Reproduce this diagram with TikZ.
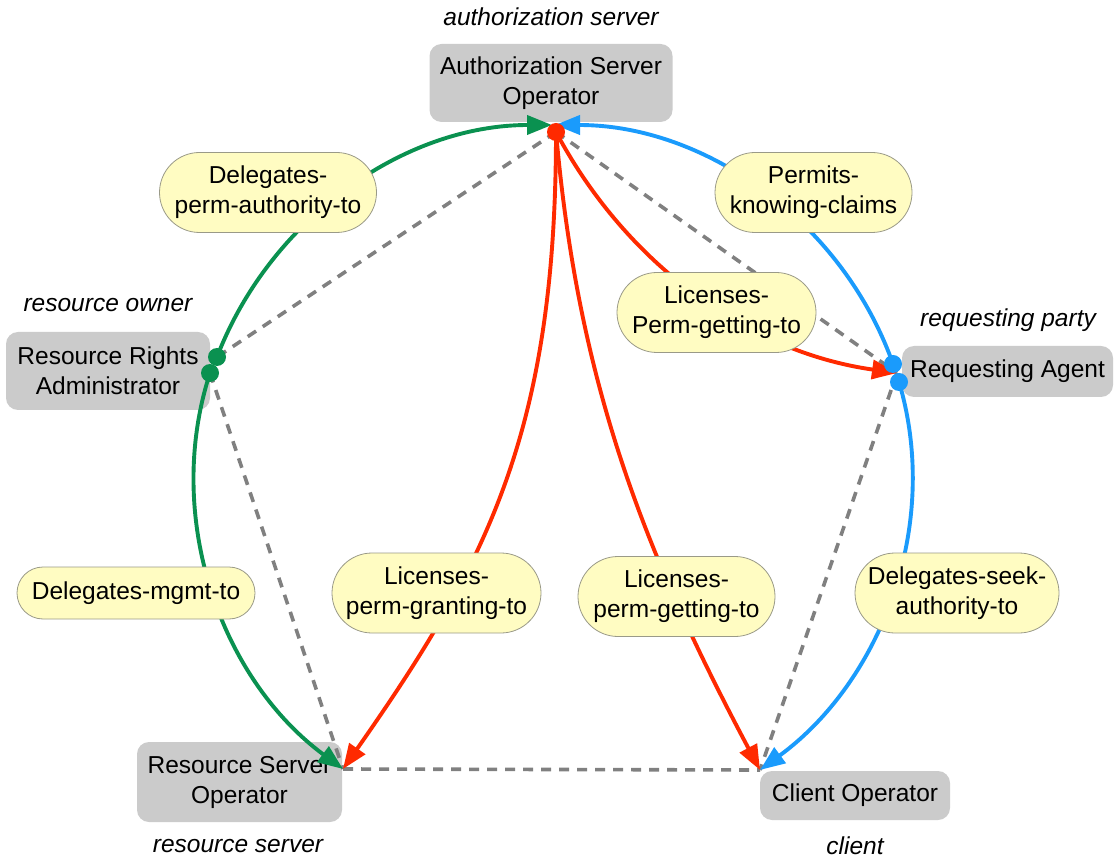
\documentclass[tikz,border=0pt]{standalone}
\usepackage{fontspec}
\setmainfont{Liberation Sans}
\usetikzlibrary{arrows.meta,shapes.misc}
\definecolor{boxgray}{HTML}{CBCBCB}
\definecolor{pillfill}{HTML}{FFFCC2}
\definecolor{pilledge}{HTML}{9A9A88}
\definecolor{delegreen}{HTML}{0A9150}
\definecolor{seekblue}{HTML}{1A9BFC}
\definecolor{licred}{HTML}{FF2A00}
\definecolor{dashgray}{HTML}{808080}

\begin{document}
\begin{tikzpicture}[x=1pt,y=1pt,
  font=\fontsize{24.5}{30}\selectfont,
  party/.style={fill=boxgray, rounded corners=12pt, align=center, inner sep=0pt},
  role/.style={font=\fontsize{24.5}{30}\selectfont\itshape},
  rel/.style={rounded rectangle, draw=pilledge, line width=0.8pt, fill=pillfill, align=center,
              inner sep=0pt, minimum height=80pt},
  relone/.style={rel, minimum height=52pt},
  link/.style={line width=3.9pt, -{Triangle[length=25pt,width=19pt]}},
  trust/.style={dashgray, line width=3.6pt, dash pattern=on 10pt off 8pt},
]
\useasboundingbox (0,0) rectangle (1115,860);

% parties
\node[party, minimum width=243pt, minimum height=78pt] (aso) at (551,777) {Authorization Server\\Operator};
\node[party, minimum width=204pt, minimum height=78pt] (rra) at (108,489) {Resource Rights\\Administrator};
\node[party, minimum width=211pt, minimum height=51pt] (ra) at (1007.5,488.5) {Requesting Agent};
\node[party, minimum width=205pt, minimum height=80pt] (rso) at (239.5,78) {Resource Server\\Operator};
\node[party, minimum width=190pt, minimum height=49pt] (co) at (855,64.5) {Client Operator};

% roles
\node[role] (asorole) at (551,843) {authorization server};
\node[role] (rrarole) at (108,555) {resource owner};
\node[role] (rarole) at (1008,540) {requesting party};
\node[role] (rsorole) at (238,14) {resource server};
\node[role] (corole) at (855,14) {client};

% attachment points
\coordinate (top) at (556,728);
\coordinate (gtip) at (552,735);
\coordinate (btip) at (555,735);
\coordinate (g1) at (217,503);
\coordinate (g2) at (210,487);
\coordinate (b1) at (893,496);
\coordinate (b2) at (899,478);
\coordinate (ratip) at (897,487);
\coordinate (rsotip) at (343,91);
\coordinate (cotip) at (760,90);

% trust triangle lines
\draw[trust] (top) -- (g1);
\draw[trust] (top) -- (ratip);
\draw[trust] (g2) -- (rsotip);
\draw[trust] (ratip) -- (cotip);
\draw[trust] (rsotip) -- (cotip);

% delegation arcs
\draw[link, delegreen] (g1) to[out=69, in=180, looseness=0.93] (gtip);
\draw[link, delegreen] (g2) to[out=-108, in=143.5, looseness=0.93] (rsotip);
\draw[link, seekblue] (b1) to[out=109.5, in=0, looseness=0.93] (btip);
\draw[link, seekblue] (b2) to[out=-73.5, in=36.3, looseness=0.93] (cotip);

% licensing curves
\draw[link, licred] (top) .. controls +(0,-300) and +(143.4,204.8) .. (rsotip);
\draw[link, licred] (top) .. controls +(21.8,-249) and +(-117.3,220.7) .. (cotip);
\draw[link, licred] (top) .. controls +(70.4,-132.4) and +(-148.5,20.9) .. (ratip);

% relation labels
\node[rel, minimum width=217pt] (dpa) at (268,667.5) {Delegates-\\perm-authority-to};
\node[rel, minimum width=197pt] (pkc) at (813.5,667.5) {Permits-\\knowing-claims};
\node[rel, minimum width=199pt] (lpgu) at (716.5,547.5) {Licenses-\\Perm-getting-to};
\node[relone, minimum width=238pt] (dm) at (136,267) {Delegates-mgmt-to};
\node[rel, minimum width=209pt] (lpgr) at (436.5,267) {Licenses-\\perm-granting-to};
\node[rel, minimum width=197pt] (lpge) at (676.5,263.5) {Licenses-\\perm-getting-to};
\node[rel, minimum width=204pt] (dsa) at (957,267) {Delegates-seek-\\authority-to};

% junction dots
\fill[delegreen] (g1) circle (9pt);
\fill[delegreen] (g2) circle (9pt);
\fill[seekblue] (b1) circle (9pt);
\fill[seekblue] (b2) circle (9pt);
\fill[licred] (top) circle (9pt);
\end{tikzpicture}
\end{document}
